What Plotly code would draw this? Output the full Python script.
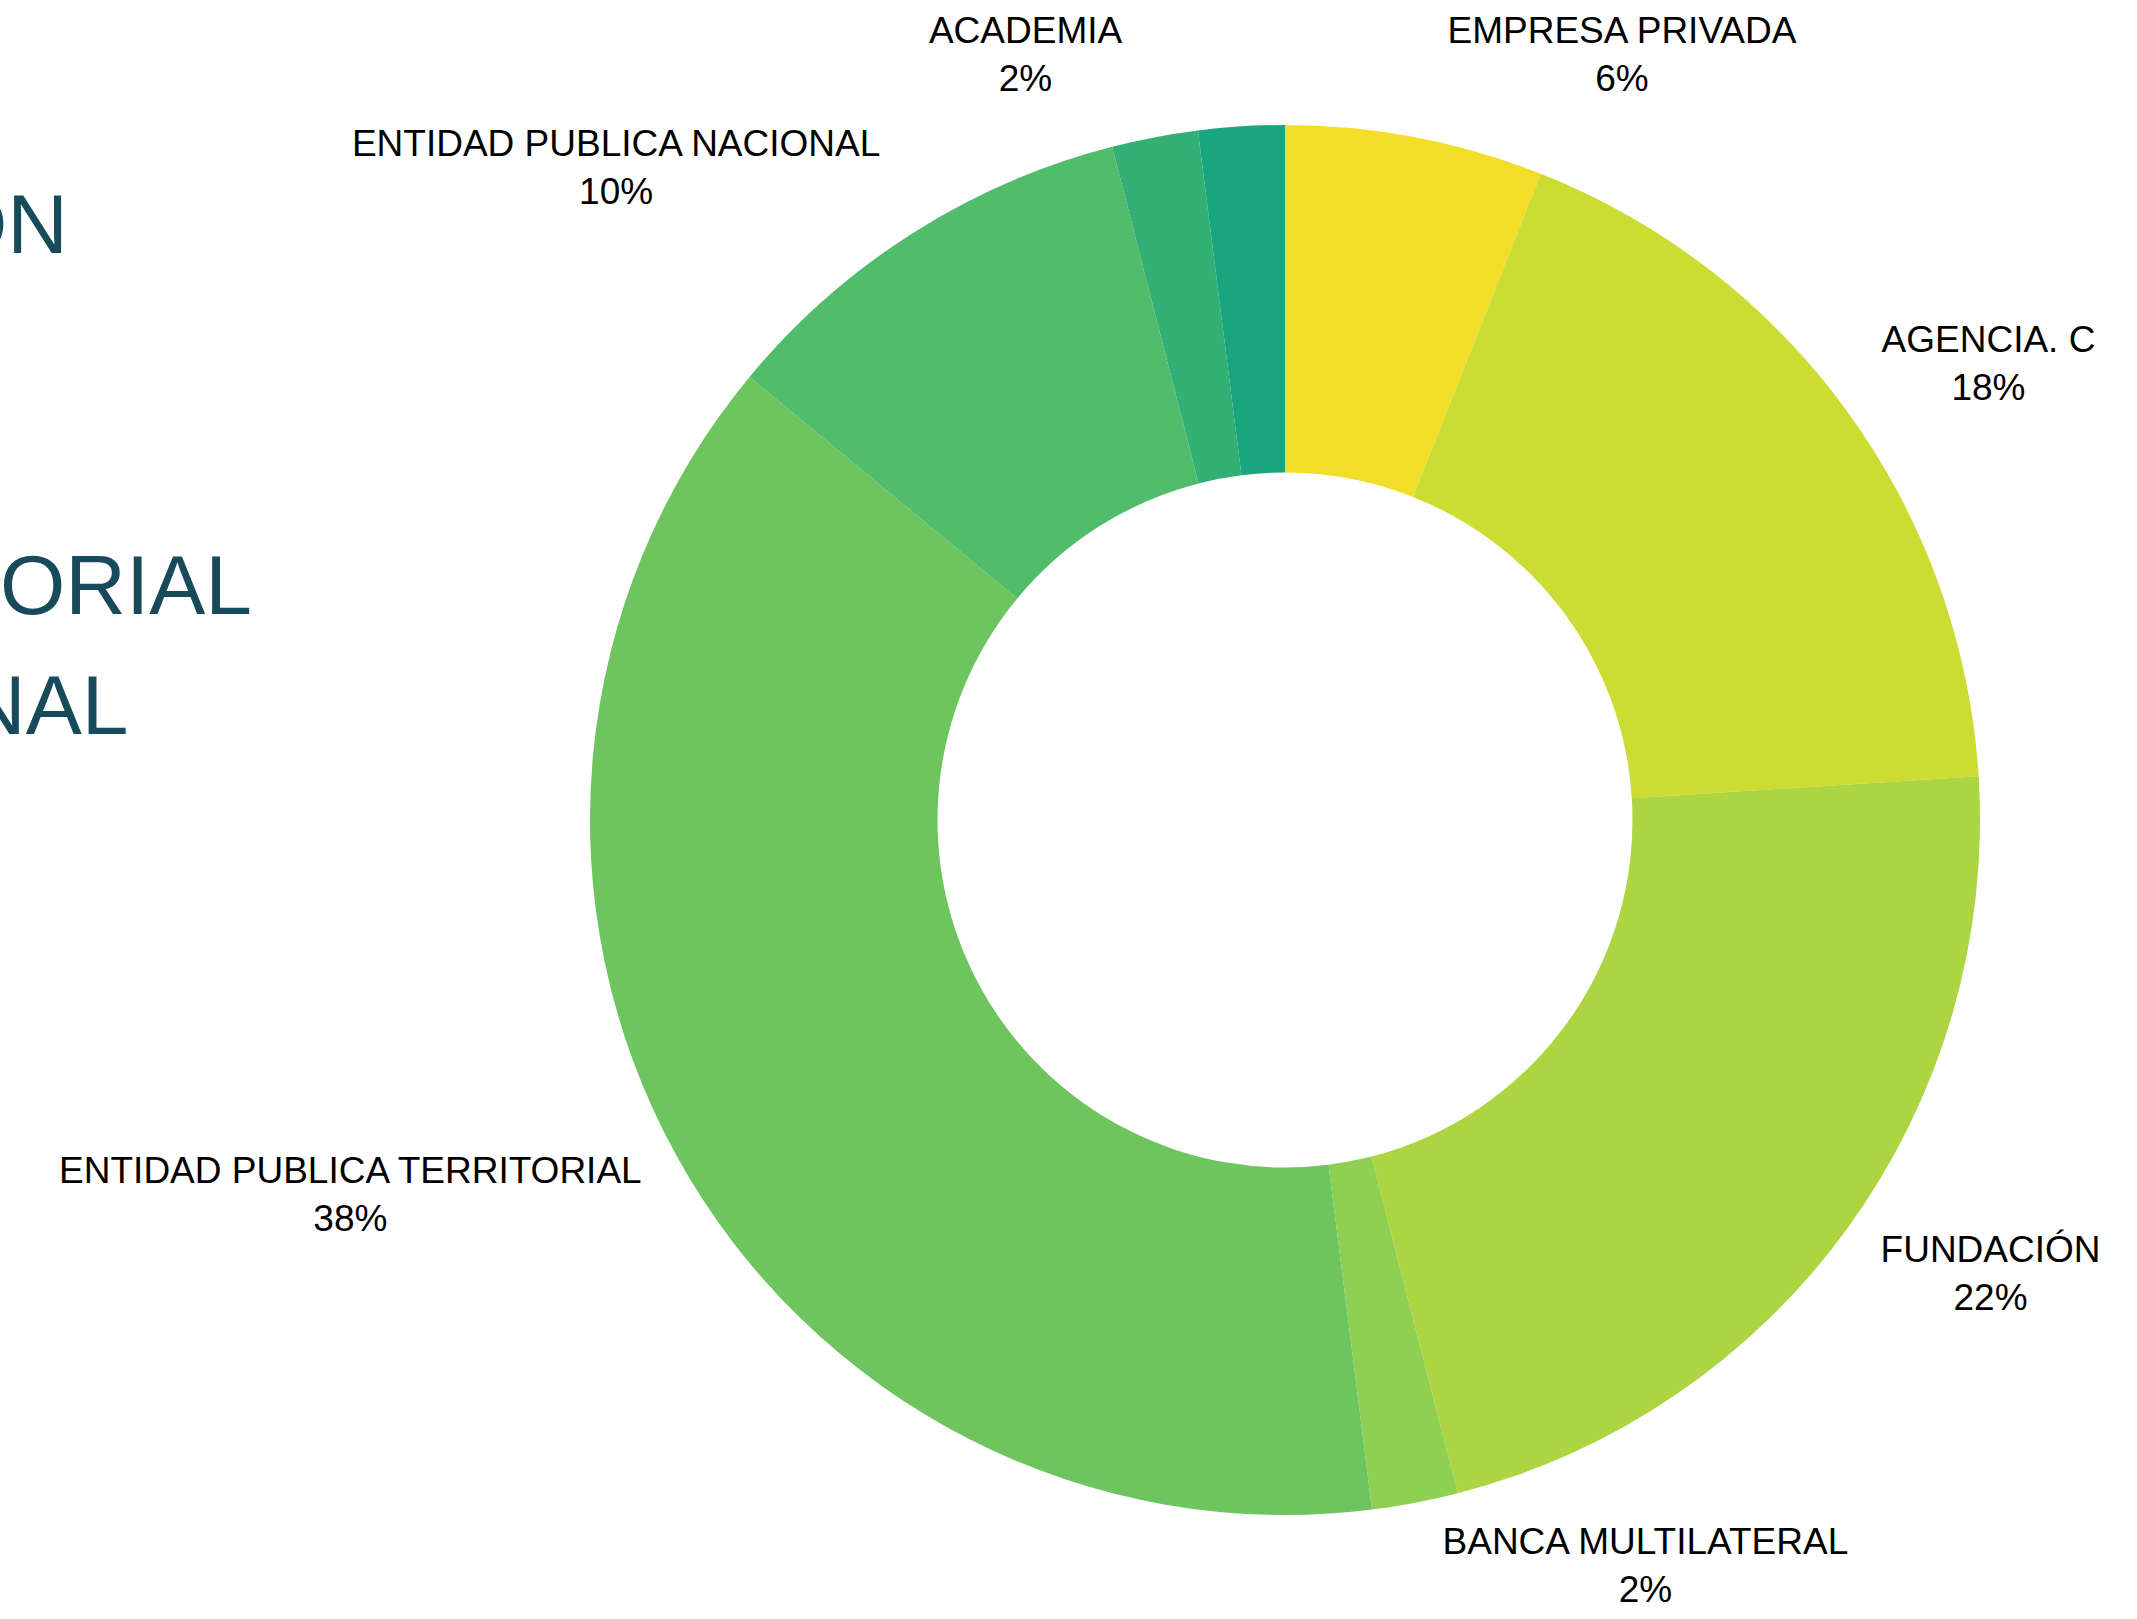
import plotly.graph_objects as go

# ---- data ----
categories = [
    "EMPRESA PRIVADA",
    "AGENCIA. C",
    "FUNDACIÓN",
    "BANCA MULTILATERAL",
    "ENTIDAD PUBLICA TERRITORIAL",
    "ENTIDAD PUBLICA NACIONAL",
    "ACADEMIA",
    "OTRO",
]
percentages = [6, 18, 22, 2, 38, 10, 2, 2]
show_label = [True, True, True, True, True, True, True, False]
colors = ["#f2de29", "#cddc33", "#acd541", "#8fcf51",
          "#6ec55f", "#50bc6c", "#34b077", "#19a67f"]

# cropped legend text visible at the left edge
left_texts = ["ON", "ORIAL", "NAL"]

W, H = 2137, 1619
cx, cy, R = 1285, 820, 695
FS = 37


def spacer(size):
    return f'<span style="font-size:{size}px">&nbsp;</span>'


# spacing lines to set the label distance from the ring (styling only)
label_prefix = ["", "", spacer(32) + "<br>", spacer(6) + "<br>", spacer(FS) + "<br>", "", "", ""]
label_suffix = ["<br>" + spacer(2), "<br>" + spacer(FS), "", "", "", "<br>" + spacer(2), "<br>" + spacer(2), ""]
# labels drawn by a second (transparent) layer so they are not pushed by neighbours
second_layer = [False, False, False, False, False, False, True, False]


def make_text(layer_flag):
    out = []
    for i, (c, p) in enumerate(zip(categories, percentages)):
        if not show_label[i] or second_layer[i] != layer_flag:
            out.append("")
        else:
            out.append(f"{label_prefix[i]}{c}<br>{p}%{label_suffix[i]}")
    return out


normal = "Liberation Sans, Arial, sans-serif"
domain = dict(x=[(cx - R) / W, (cx + R) / W], y=[1 - (cy + R) / H, 1 - (cy - R) / H])

fig = go.Figure()
fig.add_trace(go.Pie(
    labels=categories,
    values=percentages,
    text=make_text(False),
    textinfo="text",
    textposition="outside",
    hole=0.5,
    sort=False,
    direction="clockwise",
    rotation=0,
    marker=dict(colors=colors, line=dict(width=0)),
    textfont=dict(size=FS, color="#000000", family=normal),
    showlegend=False,
    domain=domain,
    hoverinfo="label+percent",
))
fig.add_trace(go.Pie(
    labels=categories,
    values=percentages,
    text=make_text(True),
    textinfo="text",
    textposition="outside",
    hole=0.5,
    sort=False,
    direction="clockwise",
    rotation=0,
    marker=dict(colors=["rgba(0,0,0,0)"] * len(categories), line=dict(width=0)),
    textfont=dict(size=FS, color="#000000", family=normal),
    showlegend=False,
    domain=domain,
    hoverinfo="skip",
))

ann_right = [70, 254, 130]
ann_base = [252, 613, 733]
fs = 84
for t, xr, yb in zip(left_texts, ann_right, ann_base):
    fig.add_annotation(
        text=t, xref="paper", yref="paper",
        x=xr / W, y=1 - (yb - 0.33 * fs) / H,
        xanchor="right", yanchor="middle",
        showarrow=False,
        font=dict(size=fs, color="#174a5a", family=normal),
    )

fig.update_layout(
    width=W, height=H,
    margin=dict(l=0, r=0, t=0, b=0),
    paper_bgcolor="white",
    plot_bgcolor="white",
)

fig.write_html(
    "out.html",
    config={"displayModeBar": False},
    post_script="document.body.style.margin='0';document.body.style.overflow='hidden';",
)
